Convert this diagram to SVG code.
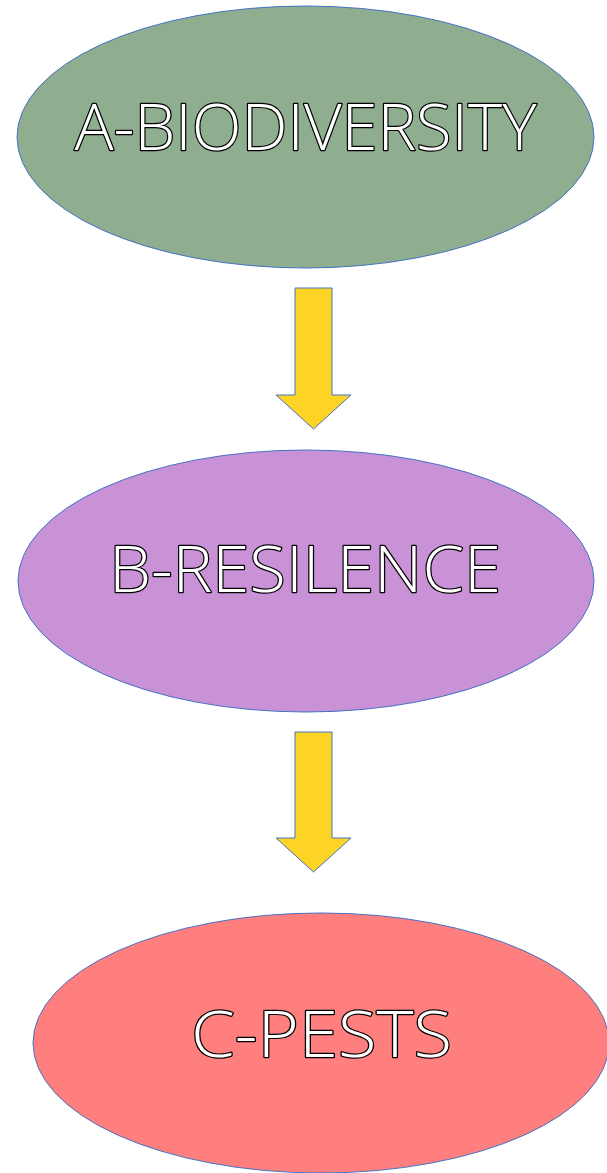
<svg xmlns="http://www.w3.org/2000/svg" width="607" height="1173" viewBox="0 0 607 1173">
  <style>
    .node { stroke: #4472c4; stroke-width: 1; }
    .label { font-family: "Open Sans", "Lato", "Liberation Sans", sans-serif; font-weight: 300; font-size: 64px; fill: #ffffff; stroke: #000000; stroke-width: 2.4; paint-order: stroke; text-anchor: middle; stroke-linejoin: round; }
    .arrow { fill: #fdd426; stroke: #4472c4; stroke-width: 1; stroke-linejoin: miter; }
  </style>
  <rect width="607" height="1173" fill="#ffffff"/>
  <g id="node-a">
    <ellipse class="node" cx="305.5" cy="137" rx="288.5" ry="131" fill="#8fad8f"/>
    <text class="label" x="305.5" y="150" textLength="462" lengthAdjust="spacingAndGlyphs">A-BIODIVERSITY</text>
  </g>
  <g id="node-b">
    <ellipse class="node" cx="306" cy="581" rx="288" ry="131" fill="#c991d6"/>
    <text class="label" x="305" y="592" textLength="392" lengthAdjust="spacingAndGlyphs">B-RESILENCE</text>
  </g>
  <g id="node-c">
    <ellipse class="node" cx="321" cy="1043" rx="288" ry="130" fill="#ff7f7f"/>
    <text class="label" x="321.5" y="1057" textLength="261" lengthAdjust="spacingAndGlyphs">C-PESTS</text>
  </g>
  <g id="connectors">
    <path class="arrow" d="M295,288 H332 V395 H351 L313.5,429 L276,395 H295 Z"/>
    <path class="arrow" d="M295,732 H332 V838 H351 L313.5,872 L276,838 H295 Z"/>
  </g>
</svg>
